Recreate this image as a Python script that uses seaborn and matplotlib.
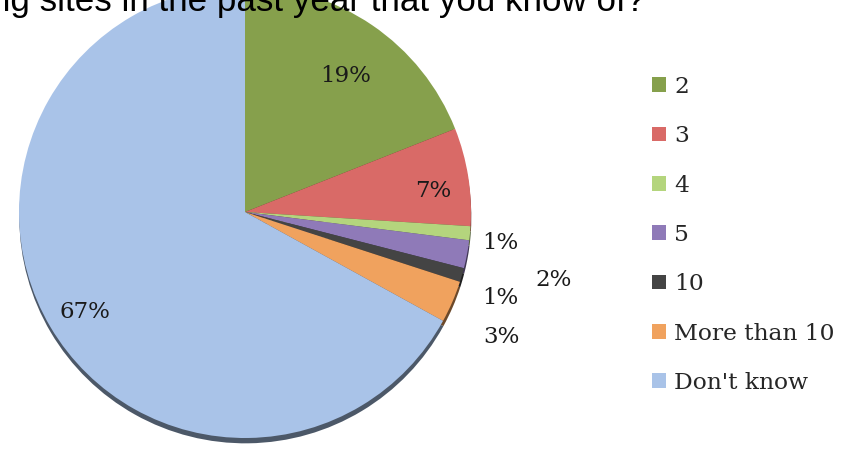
import numpy as np
import matplotlib
matplotlib.use("Agg")
import matplotlib.pyplot as plt
import seaborn as sns

categories = ["2", "3", "4", "5", "10", "More than 10", "Don't know"]
shares = [19, 7, 1, 2, 1, 3, 67]
colors = ["#86a04c", "#d96a67", "#b4d57d", "#8f7ab8", "#444444", "#f0a25e", "#a9c3e8"]

# label placement: radius (in pie radii) and small angle nudge (degrees)
label_r = [0.75, 0.84, 1.14, 1.40, 1.19, 1.26, 0.835]
label_nudge = [-2.4, -2.6, -1.5, -1.6, -2.4, -2.6, 1.4]

title = "ng sites in the past year that you know of?"

sns.set_theme(style="white")
plt.rcParams["font.family"] = ["DejaVu Serif"]

fig = plt.figure(figsize=(8.49, 4.49), dpi=100)
ax = fig.add_axes([19 / 849, 11 / 449, 452 / 849, 452 / 449])

# shadow offset is in data units (scaled by dpi/72)
wedges, _ = ax.pie(shares, colors=colors, startangle=90, counterclock=False,
	radius=1, wedgeprops=dict(linewidth=0),
	shadow=dict(ox=0.001, oy=-0.017, shade=0.55, alpha=1))

ax.set_xlim(-1, 1)
ax.set_ylim(-1, 1)
ax.axis("off")
for p in ax.patches:
	p.set_clip_on(False)

for w, val, r, nudge in zip(wedges, shares, label_r, label_nudge):
	ang = np.deg2rad((w.theta1 + w.theta2) / 2 + nudge)
	ax.text(r * np.cos(ang), r * np.sin(ang), f"{val}%", ha="center", va="center",
		fontsize=16.5, color="#1a1a1a", family="DejaVu Serif")

fig.text(-9 / 849, 1 - 10.5 / 449, title, ha="left", va="baseline",
	fontsize=25.2, family="Liberation Sans", color="black")

fig.legend(wedges, categories, loc="upper left", bbox_to_anchor=(652 / 849, 1 - 76 / 449),
	frameon=False, borderpad=0, borderaxespad=0, handlelength=0.6, handleheight=0.6,
	handletextpad=0.35, labelspacing=1.17, prop=dict(family="DejaVu Serif", size=16.8))

plt.savefig("out.png", dpi=100)
